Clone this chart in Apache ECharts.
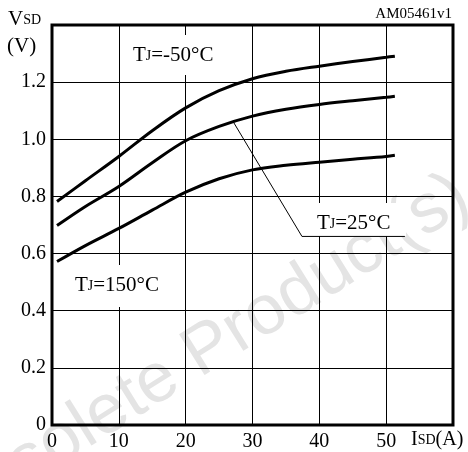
<!DOCTYPE html>
<html>
<head>
<meta charset="utf-8">
<script src="https://cdn.jsdelivr.net/npm/echarts@6/dist/echarts.min.js"></script>
<style>
  html, body { margin: 0; padding: 0; background: #fff; }
  #chart { width: 468px; height: 452px; }
</style>
</head>
<body>
<div id="chart"></div>
<script>
// Source current ISD (A) at which each curve is sampled
const isdA = [0.75, 5, 10, 15, 20, 25, 30, 35, 40, 45, 50, 51.3];
// Forward voltage VSD (V) per junction temperature
const vsdMinus50 = [0.782, 0.855, 0.94, 1.03, 1.11, 1.17, 1.212, 1.238, 1.256, 1.272, 1.287, 1.291];
const vsd25 = [0.698, 0.765, 0.835, 0.918, 0.995, 1.045, 1.081, 1.105, 1.122, 1.135, 1.147, 1.151];
const vsd150 = [0.572, 0.628, 0.688, 0.752, 0.815, 0.862, 0.893, 0.909, 0.92, 0.93, 0.94, 0.944];
// Leader from the 25 °C curve to its label
const leaderX = [27.1, 37.4, 52.8];
const leaderY = [1.062, 0.66, 0.66];
// Tick labels
const xTicks = [0, 10, 20, 30, 40, 50];
const yTicks = [0, 0.2, 0.4, 0.6, 0.8, 1.0, 1.2];

const serif = '"Liberation Serif", "DejaVu Serif", serif';
const pair = (xs, ys) => xs.map((x, i) => [x, ys[i]]);

function curve(values) {
  return {
    type: 'line',
    data: pair(isdA, values),
    smooth: 0.35,
    symbol: 'none',
    z: 3,
    lineStyle: { color: '#000', width: 3 }
  };
}

// large letter + small-cap suffix sharing one baseline
const bigSub = (big, small, rest, size) => ({
  text: '{a|' + big + '}{b|' + small + '}{a|' + rest + '}',
  rich: {
    a: { fontFamily: serif, fontSize: size, lineHeight: size, fill: '#000', verticalAlign: 'bottom' },
    b: {
      fontFamily: serif, fontSize: Math.round(size * 0.68), lineHeight: size,
      fill: '#000', verticalAlign: 'bottom', padding: [0, 0, 3, 0]
    }
  }
});

const chart = echarts.init(document.getElementById('chart'));
chart.setOption({
  animation: false,
  backgroundColor: '#fff',
  grid: {
    left: 52, right: 15, top: 25, bottom: 27,
    show: true, borderColor: '#000', borderWidth: 3, backgroundColor: 'transparent', z: 4
  },
  xAxis: {
    type: 'value', min: 0, max: 60, interval: 10,
    axisLine: { show: false }, axisTick: { show: false },
    splitLine: { show: true, lineStyle: { color: '#000', width: 1 } },
    axisLabel: {
      color: '#000', fontFamily: serif, fontSize: 20, margin: 7,
      formatter: v => (xTicks.indexOf(v) >= 0 ? String(v) : '')
    }
  },
  yAxis: {
    type: 'value', min: 0, max: 1.4, interval: 0.2,
    axisLine: { show: false }, axisTick: { show: false },
    splitLine: { show: true, lineStyle: { color: '#000', width: 1 } },
    axisLabel: {
      color: '#000', fontFamily: serif, fontSize: 20, margin: 6,
      formatter: v => {
        const t = yTicks.find(k => Math.abs(k - v) < 1e-6);
        if (t === undefined) return '';
        return t === 0 ? '0' : t.toFixed(1);
      }
    }
  },
  series: [
    curve(vsdMinus50),
    curve(vsd25),
    curve(vsd150),
    {
      type: 'line',
      data: pair(leaderX, leaderY),
      symbol: 'none',
      z: 3,
      lineStyle: { color: '#000', width: 1 }
    }
  ],
  graphic: [
    {
      type: 'text', x: -46, y: 550, rotation: Math.PI * 32 / 180, z: 0, silent: true,
      style: {
        text: 'Obsolete Product(s)', fontFamily: '"Liberation Sans", Arial, sans-serif',
        fontSize: 70, fill: '#e4e4e4', verticalAlign: 'bottom'
      }
    },
    // white panels behind the in-plot labels
    { type: 'rect', shape: { x: 124, y: 35, width: 102, height: 40 }, style: { fill: '#fff' }, z: 1 },
    { type: 'rect', shape: { x: 68, y: 265, width: 108, height: 42 }, style: { fill: '#fff' }, z: 1 },
    { type: 'rect', shape: { x: 306, y: 203, width: 100, height: 33 }, style: { fill: '#fff' }, z: 1 },
    { type: 'text', x: 133, y: 45, z: 5, style: bigSub('T', 'J', '=-50°C', 21) },
    { type: 'text', x: 317, y: 213, z: 5, style: bigSub('T', 'J', '=25°C', 21) },
    { type: 'text', x: 75, y: 275, z: 5, style: bigSub('T', 'J', '=150°C', 21) },
    { type: 'text', x: 8, y: 9, z: 5, style: bigSub('V', 'SD', '', 21) },
    { type: 'text', x: 7, y: 36, z: 5, style: { text: '(V)', fontFamily: serif, fontSize: 21, fill: '#000' } },
    { type: 'text', x: 411, y: 430, z: 5, style: bigSub('I', 'SD', '(A)', 20) },
    { type: 'text', right: 16, top: 7, z: 5, style: { text: 'AM05461v1', fontFamily: serif, fontSize: 15, fill: '#000' } }
  ]
});
</script>
</body>
</html>
